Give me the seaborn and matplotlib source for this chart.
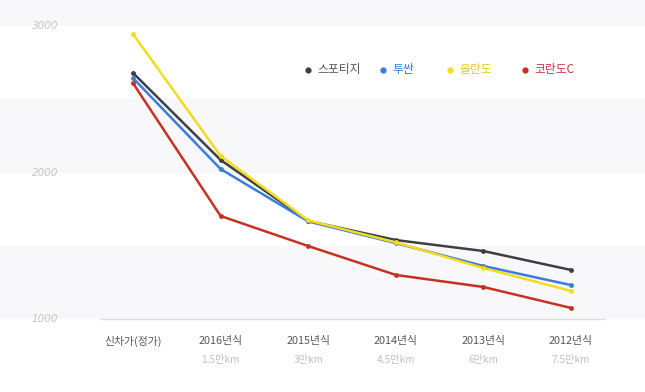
import numpy as np
import pandas as pd
import matplotlib
matplotlib.use("Agg")
import matplotlib.pyplot as plt
import seaborn as sns

# ---- data ----
categories = ["신차가(정가)", "2016년식", "2015년식", "2014년식", "2013년식", "2012년식"]
mileage = ["", "1.5만km", "3만km", "4.5만km", "6만km", "7.5만km"]
series_names = ["스포티지", "투싼", "올란도", "코란도C"]
sportage = [2680, 2087, 1671, 1541, 1466, 1337]
tucson = [2645, 2025, 1668, 1520, 1364, 1234]
orlando = [2945, 2114, 1675, 1525, 1350, 1194]
korando = [2610, 1705, 1500, 1303, 1221, 1078]
y_ticks = [1000, 2000, 3000]

colors = ["#3d3f44", "#3a7be0", "#f3dc1c", "#c63222"]
text_colors = ["#55575c", "#3a7be0", "#e2c92a", "#c8324a"]

values = [sportage, tucson, orlando, korando]
df = pd.DataFrame({
    "x": np.tile(np.arange(len(categories)), len(series_names)),
    "value": np.concatenate(values),
    "series": np.repeat(series_names, len(categories)),
})

sns.set_theme(style="white")
plt.rcParams["font.family"] = ["Noto Sans CJK KR", "DejaVu Sans"]

fig = plt.figure(figsize=(6.45, 3.92), dpi=100)
ax = fig.add_axes([0, 0, 1, 1])

# pixel mapping: x=0 at 133px, step 87.6px; 3000 at y=26px, 0.1467 px/unit
step = 87.6
x0 = 133
ax.set_xlim(-x0 / step, (645 - x0) / step)
ax.set_ylim(3000 - (392 - 26) / 0.1467, 3000 + 26 / 0.1467)

# background bands
band = "#f8f8fa"
ax.axhspan(3000, 4000, color=band, lw=0, zorder=0)
ax.axhspan(2000, 2500, color=band, lw=0, zorder=0)
ax.axhspan(1000, 1500, color=band, lw=0, zorder=0)
ax.axhline(1000, xmin=100 / 645, xmax=605 / 645, color="#dedee0", lw=1, zorder=1)

sns.lineplot(data=df, x="x", y="value", hue="series", hue_order=series_names,
             palette=colors, marker="o", markersize=3.5, markeredgewidth=0,
             linewidth=1.8, ax=ax, legend=False, zorder=3)

for a in ["top", "right", "left", "bottom"]:
    ax.spines[a].set_visible(False)
ax.set_xticks([])
ax.set_yticks([])
ax.set_xlabel("")
ax.set_ylabel("")

# y labels
xl = (58 - x0) / step
for t in y_ticks:
    ax.text(xl, t, str(t), ha="right", va="center", fontsize=7.5,
            color="#c4c4c8", style="italic", family=["DejaVu Sans"])

# x labels
def ypix(p):
    return 3000 - (p - 26) / 0.1467

for i, (c, m) in enumerate(zip(categories, mileage)):
    ax.text(i, ypix(341), c, ha="center", va="center", fontsize=7.8,
            color="#55575c", fontweight="medium")
    if m:
        ax.text(i, ypix(360), m, ha="center", va="center", fontsize=7.3,
                color="#c0c0c4")

# legend
dot_px = [308, 383, 450, 525]
for name, dp, col, tc in zip(series_names, dot_px, colors, text_colors):
    xd = (dp - x0) / step
    ax.plot([xd], [ypix(70)], marker="o", markersize=4.5, color=col, mec="none")
    ax.text((dp + 9 - x0) / step, ypix(70), name, ha="left", va="center",
            fontsize=8.5, color=tc)

fig.savefig("out.png", dpi=100)
